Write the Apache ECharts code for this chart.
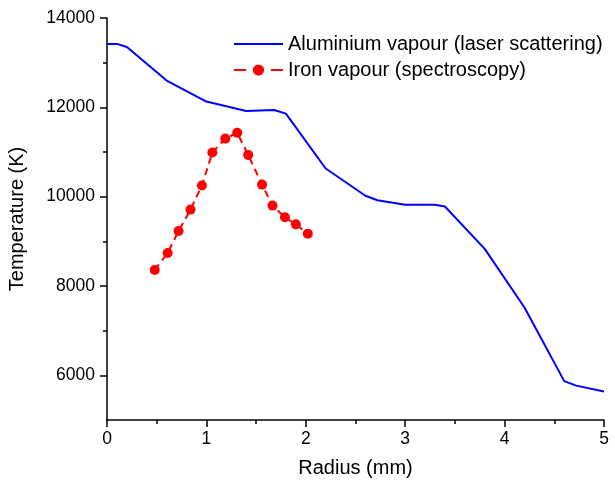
<!DOCTYPE html>
<html>
<head>
<meta charset="utf-8">
<script src="https://cdn.jsdelivr.net/npm/echarts@6/dist/echarts.min.js"></script>
<style>
  html, body { margin: 0; padding: 0; background: #fff; }
  #chart { width: 615px; height: 481px; }
</style>
</head>
<body>
<div id="chart"></div>
<script>
// aluminium vapour, laser scattering: [radius mm, temperature K]
const aluminiumData = [
  [0, 13420], [0.1, 13420], [0.2, 13350], [0.6, 12600], [1.0, 12130],
  [1.4, 11920], [1.68, 11940], [1.8, 11860], [2.2, 10630], [2.6, 10020],
  [2.72, 9920], [3.0, 9820], [3.3, 9820], [3.4, 9780], [3.8, 8830],
  [4.2, 7520], [4.6, 5870], [4.72, 5770], [5.0, 5640]
];
// iron vapour, spectroscopy
const ironData = [
  [0.48, 8360], [0.61, 8740], [0.72, 9230], [0.84, 9710], [0.955, 10250],
  [1.06, 10990], [1.19, 11300], [1.31, 11430], [1.42, 10935], [1.56, 10270],
  [1.665, 9800], [1.79, 9540], [1.9, 9380], [2.02, 9170]
];
const seriesNames = ['Aluminium vapour (laser scattering)', 'Iron vapour (spectroscopy)'];
const yMajorTicks = [6000, 8000, 10000, 12000, 14000];
const yMinorTicks = [7000, 9000, 11000, 13000];

const font = 'Liberation Sans';
const chart = echarts.init(document.getElementById('chart'), null, { renderer: 'canvas' });

const option = {
  backgroundColor: '#fff',
  animation: false,
  grid: { left: 107, right: 11, top: 18, bottom: 61, containLabel: false, outerBoundsMode: 'none' },
  legend: {
    left: 233,
    top: 34,
    orient: 'vertical',
    padding: 0,
    itemWidth: 49,
    itemHeight: 14,
    itemGap: 6,
    textStyle: { fontFamily: font, fontSize: 20, color: '#000', lineHeight: 20 },
    data: [
      // no marker on the solid line's legend sample
      { name: seriesNames[0], itemStyle: { opacity: 0 } },
      { name: seriesNames[1], lineStyle: { type: [12, 25] } }
    ]
  },
  xAxis: {
    type: 'value',
    min: 0,
    max: 5,
    interval: 1,
    name: 'Radius (mm)',
    nameLocation: 'middle',
    nameGap: 38,
    nameTextStyle: { fontFamily: font, fontSize: 20, color: '#000' },
    axisLine: { show: true, onZero: false, lineStyle: { color: '#000', width: 1.5 } },
    axisTick: { show: true, length: 7, lineStyle: { color: '#000', width: 1.5 } },
    minorTick: { show: true, splitNumber: 2, length: 4, lineStyle: { color: '#000', width: 1.5 } },
    axisLabel: { fontFamily: font, fontSize: 17.5, color: '#000', margin: 10 },
    splitLine: { show: false }
  },
  yAxis: [{
    type: 'value',
    min: 5000,
    max: 14000,
    interval: 1000,
    name: 'Temperature (K)',
    nameLocation: 'middle',
    nameGap: 80,
    nameTextStyle: { fontFamily: font, fontSize: 20, color: '#000' },
    axisLine: { show: true, onZero: false, lineStyle: { color: '#000', width: 1.5 } },
    axisTick: { show: true, length: 7, customValues: yMajorTicks, lineStyle: { color: '#000', width: 1.5 } },
    axisLabel: {
      fontFamily: font, fontSize: 17.5, color: '#000', margin: 12,
      customValues: yMajorTicks,
      formatter: v => String(v)
    },
    splitLine: { show: false }
  }, {
    type: 'value',
    min: 5000,
    max: 14000,
    interval: 1000,
    position: 'left',
    axisLine: { show: false },
    axisTick: { show: true, length: 4, customValues: yMinorTicks, lineStyle: { color: '#000', width: 1.5 } },
    axisLabel: { show: false },
    splitLine: { show: false }
  }],
  series: [{
    name: seriesNames[0],
    type: 'line',
    data: aluminiumData,
    yAxisIndex: 0,
    showSymbol: false,
    symbol: 'none',
    color: '#0000ff',
    lineStyle: { color: '#0000ff', width: 2 }
  }, {
    name: seriesNames[1],
    type: 'line',
    data: ironData,
    yAxisIndex: 0,
    symbol: 'circle',
    symbolSize: 10,
    color: '#ff0000',
    itemStyle: { color: '#ff0000' },
    lineStyle: { color: '#ff0000', width: 2, type: [7, 5] }
  }]
};
chart.setOption(option);
</script>
</body>
</html>
